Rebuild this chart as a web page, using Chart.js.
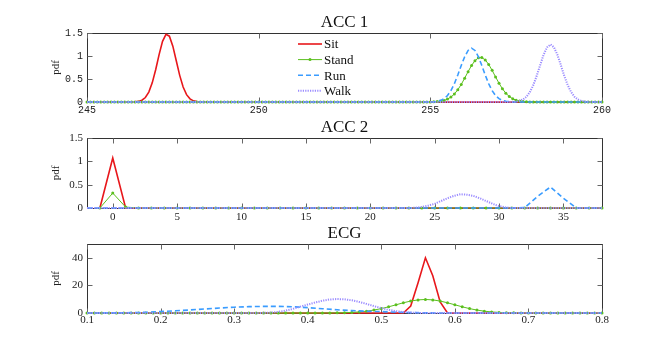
<!DOCTYPE html>
<html>
<head>
<meta charset="utf-8">
<script src="https://cdn.jsdelivr.net/npm/chart.js@4.4.0/dist/chart.umd.min.js"></script>
<style>
  body { margin: 0; background: #fff; width: 664px; height: 353px; position: relative; overflow: hidden; }
  .panel { position: absolute; left: 0; width: 664px; }
</style>
</head>
<body>
<div class="panel" style="top:0;height:120px"><canvas id="acc1"></canvas></div>
<div class="panel" style="top:110px;height:120px"><canvas id="acc2"></canvas></div>
<div class="panel" style="top:215px;height:138px"><canvas id="ecg"></canvas></div>
<script>
// ---- ACC 1 ----
const acc1XTicks = [245, 250, 255, 260];
const acc1YTicks = [0, 0.5, 1, 1.5];
const acc1Grid = [
  245, 245.1, 245.2, 245.3, 245.4, 245.5, 245.6, 245.7, 245.8, 245.9,
  246, 246.1, 246.2, 246.3, 246.4, 246.5, 246.6, 246.7, 246.8, 246.9,
  247, 247.1, 247.2, 247.3, 247.4, 247.5, 247.6, 247.7, 247.8, 247.9,
  248, 248.1, 248.2, 248.3, 248.4, 248.5, 248.6, 248.7, 248.8, 248.9,
  249, 249.1, 249.2, 249.3, 249.4, 249.5, 249.6, 249.7, 249.8, 249.9,
  250, 250.1, 250.2, 250.3, 250.4, 250.5, 250.6, 250.7, 250.8, 250.9,
  251, 251.1, 251.2, 251.3, 251.4, 251.5, 251.6, 251.7, 251.8, 251.9,
  252, 252.1, 252.2, 252.3, 252.4, 252.5, 252.6, 252.7, 252.8, 252.9,
  253, 253.1, 253.2, 253.3, 253.4, 253.5, 253.6, 253.7, 253.8, 253.9,
  254, 254.1, 254.2, 254.3, 254.4, 254.5, 254.6, 254.7, 254.8, 254.9,
  255, 255.1, 255.2, 255.3, 255.4, 255.5, 255.6, 255.7, 255.8, 255.9,
  256, 256.1, 256.2, 256.3, 256.4, 256.5, 256.6, 256.7, 256.8, 256.9,
  257, 257.1, 257.2, 257.3, 257.4, 257.5, 257.6, 257.7, 257.8, 257.9,
  258, 258.1, 258.2, 258.3, 258.4, 258.5, 258.6, 258.7, 258.8, 258.9,
  259, 259.1, 259.2, 259.3, 259.4, 259.5, 259.6, 259.7, 259.8, 259.9,
  260
];
const acc1StandY = [
  0, 0, 0, 0, 0, 0, 0, 0, 0, 0,
  0, 0, 0, 0, 0, 0, 0, 0, 0, 0,
  0, 0, 0, 0, 0, 0, 0, 0, 0, 0,
  0, 0, 0, 0, 0, 0, 0, 0, 0, 0,
  0, 0, 0, 0, 0, 0, 0, 0, 0, 0,
  0, 0, 0, 0, 0, 0, 0, 0, 0, 0,
  0, 0, 0, 0, 0, 0, 0, 0, 0, 0,
  0, 0, 0, 0, 0, 0, 0, 0, 0, 0,
  0, 0, 0, 0, 0, 0, 0, 0, 0, 0,
  0, 0, 0, 0, 0, 0, 0, 0, 0, 0,
  0, 0.004, 0.009, 0.018, 0.034, 0.063, 0.107, 0.174, 0.265, 0.382,
  0.517, 0.660, 0.793, 0.899, 0.960, 0.965, 0.915, 0.817, 0.688, 0.545,
  0.408, 0.287, 0.190, 0.119, 0.070, 0.039, 0.020, 0.010, 0.005, 0,
  0, 0, 0, 0, 0, 0, 0, 0, 0, 0,
  0, 0, 0, 0, 0, 0, 0, 0, 0, 0,
  0
];
const acc1SitX = [245, 246.3, 246.4, 246.5, 246.6, 246.7, 246.8, 246.9, 247, 247.1, 247.2, 247.3,
  247.4, 247.5, 247.6, 247.7, 247.8, 247.9, 248, 248.1, 248.2, 248.3, 248.4, 260];
const acc1SitY = [0, 0, 0.004, 0.013, 0.038, 0.097, 0.215, 0.416, 0.701, 1.029, 1.318, 1.471,
  1.431, 1.214, 0.898, 0.579, 0.325, 0.159, 0.068, 0.025, 0.008, 0.002, 0, 0];
const acc1RunX = [245, 255.1, 255.2, 255.3, 255.4, 255.5, 255.6, 255.7, 255.8, 255.9, 256, 256.1, 256.2,
  256.3, 256.4, 256.5, 256.6, 256.7, 256.8, 256.9, 257, 257.1, 257.2, 257.3, 257.4, 260];
const acc1RunY = [0, 0, 0.015, 0.035, 0.073, 0.141, 0.247, 0.397, 0.586, 0.793, 0.984, 1.121, 1.17,
  1.121, 0.984, 0.793, 0.586, 0.397, 0.247, 0.141, 0.073, 0.035, 0.015, 0.006, 0, 0];
const acc1WalkX = [245, 257.3, 257.4, 257.5, 257.6, 257.7, 257.8, 257.9, 258, 258.1, 258.2, 258.3, 258.4,
  258.5, 258.6, 258.7, 258.8, 258.9, 259, 259.1, 259.2, 259.3, 259.4, 259.5, 259.6, 259.7, 260];
const acc1WalkY = [0, 0, 0.003, 0.009, 0.024, 0.055, 0.114, 0.216, 0.369, 0.572, 0.805, 1.029, 1.19,
  1.25, 1.19, 1.029, 0.805, 0.572, 0.369, 0.216, 0.114, 0.055, 0.024, 0.009, 0.003, 0, 0];

// ---- ACC 2 ----
const acc2XTicks = [0, 5, 10, 15, 20, 25, 30, 35];
const acc2YTicks = [0, 0.5, 1, 1.5];
const acc2Grid = [-1, 0, 1, 2, 3, 4, 5, 6, 7, 8, 9, 10, 11, 12, 13, 14, 15, 16, 17, 18, 19,
  20, 21, 22, 23, 24, 25, 26, 27, 28, 29, 30, 31, 32, 33, 34, 35, 36, 37, 38];
const acc2StandY = [0, 0.32, 0.02, 0, 0, 0, 0, 0, 0, 0, 0, 0, 0, 0, 0, 0, 0, 0, 0, 0, 0,
  0, 0, 0, 0, 0, 0, 0, 0, 0, 0, 0, 0, 0, 0, 0, 0, 0, 0, 0];
const acc2SitX = [-1, 0, 1, 38];
const acc2SitY = [0, 1.07, 0, 0];
const acc2RunX = [-2, 31, 32, 33, 34, 35, 36, 38];
const acc2RunY = [0, 0, 0.01, 0.25, 0.45, 0.21, 0, 0];
const acc2WalkX = [-2, 23, 23.5, 24, 24.5, 25, 25.5, 26, 26.5, 27, 27.5, 28, 28.5, 29, 29.5, 30, 30.5, 31, 38];
const acc2WalkY = [0, 0, 0.005, 0.02, 0.05, 0.09, 0.15, 0.21, 0.26, 0.295, 0.285, 0.26, 0.21, 0.15, 0.09, 0.04, 0.015, 0, 0];

// ---- ECG ----
const ecgXTicks = [0.1, 0.2, 0.3, 0.4, 0.5, 0.6, 0.7, 0.8];
const ecgYTicks = [0, 20, 40];
const ecgGrid = [
  0.1, 0.11, 0.12, 0.13, 0.14, 0.15, 0.16, 0.17, 0.18, 0.19,
  0.2, 0.21, 0.22, 0.23, 0.24, 0.25, 0.26, 0.27, 0.28, 0.29,
  0.3, 0.31, 0.32, 0.33, 0.34, 0.35, 0.36, 0.37, 0.38, 0.39,
  0.4, 0.41, 0.42, 0.43, 0.44, 0.45, 0.46, 0.47, 0.48, 0.49,
  0.5, 0.51, 0.52, 0.53, 0.54, 0.55, 0.56, 0.57, 0.58, 0.59,
  0.6, 0.61, 0.62, 0.63, 0.64, 0.65, 0.66, 0.67, 0.68, 0.69,
  0.7, 0.71, 0.72, 0.73, 0.74, 0.75, 0.76, 0.77, 0.78, 0.79,
  0.8
];
const ecgStandY = [
  0, 0, 0, 0, 0, 0, 0, 0, 0, 0,
  0, 0, 0, 0, 0, 0, 0, 0, 0, 0,
  0, 0, 0, 0, 0, 0, 0, 0, 0, 0,
  0, 0, 0.02, 0.05, 0.11, 0.22, 0.43, 0.78, 1.33, 2.12,
  3.18, 4.49, 5.94, 7.40, 8.65, 9.50, 9.80, 9.50, 8.65, 7.40,
  5.94, 4.49, 3.18, 2.12, 1.33, 0.78, 0.43, 0.22, 0.11, 0.05,
  0.02, 0, 0, 0, 0, 0, 0, 0, 0, 0,
  0
];
const ecgSitX = [0.1, 0.53, 0.54, 0.55, 0.56, 0.57, 0.58, 0.59, 0.8];
const ecgSitY = [0, 0, 5, 22, 40, 27, 8, 0, 0];
const ecgRunX = [0.1, 0.12, 0.14, 0.16, 0.18, 0.2, 0.22, 0.24, 0.26, 0.28, 0.3, 0.32, 0.34, 0.36,
  0.38, 0.4, 0.42, 0.44, 0.46, 0.48, 0.5, 0.52, 0.54, 0.56, 0.58, 0.6, 0.8];
const ecgRunY = [0, 0.05, 0.1, 0.25, 0.5, 1.1, 1.6, 2.2, 2.9, 3.6, 4.2, 4.6, 4.8, 4.8,
  4.5, 3.9, 3.1, 2.3, 1.7, 1.3, 1.0, 0.6, 0.3, 0.1, 0.03, 0, 0];
const ecgWalkX = [0.1, 0.33, 0.34, 0.35, 0.36, 0.37, 0.38, 0.39, 0.4, 0.41, 0.42, 0.43, 0.44,
  0.45, 0.46, 0.47, 0.48, 0.49, 0.5, 0.51, 0.52, 0.53, 0.54, 0.55, 0.56, 0.8];
const ecgWalkY = [0, 0, 0.1, 0.3, 0.8, 1.7, 3.0, 4.6, 6.1, 7.6, 8.9, 9.8, 10.1,
  9.9, 9.2, 8.0, 6.6, 5.0, 3.5, 2.3, 1.3, 0.7, 0.3, 0.1, 0, 0];

// line styles (order: higher value drawn first, so Walk ends up on top like MATLAB)
const STYLE = {
  Sit:   { borderColor: '#e8171b', borderWidth: 1.6, pointRadius: 0, order: 4 },
  Stand: { borderColor: '#5bbf1e', borderWidth: 1, pointRadius: 1.5, pointBackgroundColor: '#5bbf1e',
           pointBorderWidth: 0, order: 3 },
  Run:   { borderColor: '#3a9cff', borderWidth: 1.6, borderDash: [5, 3], pointRadius: 0, order: 2 },
  Walk:  { borderColor: '#9b8cff', borderWidth: 2, borderDash: [1.2, 1.2], pointRadius: 0, order: 1 }
};
const LEGEND_NAMES = ['Sit', 'Stand', 'Run', 'Walk'];

function pts(xs, ys) {
  return xs.map((x, i) => ({ x: x, y: ys[i] }));
}

// box, inward ticks, panel title and (optionally) the legend
const framePlugin = {
  id: 'frame',
  beforeDatasetsDraw(chart, args, opts) {
    const { ctx, chartArea: a, scales } = chart;
    const L = Math.round(a.left) + 0.5, R = Math.round(a.right) + 0.5;
    const T = Math.round(a.top) + 0.5, B = Math.round(a.bottom) + 0.5;
    ctx.save();
    ctx.lineWidth = 1;
    ctx.strokeStyle = '#333';
    ctx.strokeRect(L, T, R - L, B - T);
    ctx.strokeStyle = '#666';
    ctx.beginPath();
    scales.x.ticks.forEach(t => {
      const px = Math.round(scales.x.getPixelForValue(t.value)) + 0.5;
      ctx.moveTo(px, B); ctx.lineTo(px, B - 5);
      ctx.moveTo(px, T); ctx.lineTo(px, T + 5);
    });
    scales.y.ticks.forEach(t => {
      const py = Math.round(scales.y.getPixelForValue(t.value)) + 0.5;
      ctx.moveTo(L, py); ctx.lineTo(L + 5, py);
      ctx.moveTo(R, py); ctx.lineTo(R - 5, py);
    });
    ctx.stroke();
    ctx.fillStyle = '#111';
    ctx.font = '17px "Liberation Serif"';
    ctx.textAlign = 'center';
    ctx.textBaseline = 'alphabetic';
    ctx.fillText(opts.title, (a.left + a.right) / 2, a.top - 6);
    ctx.restore();
  },
  afterDatasetsDraw(chart, args, opts) {
    if (!opts.legend) return;
    const ctx = chart.ctx;
    ctx.save();
    ctx.font = '13px "Liberation Serif"';
    ctx.textBaseline = 'middle';
    ctx.textAlign = 'left';
    LEGEND_NAMES.forEach((name, i) => {
      const s = STYLE[name];
      const y = 44 + i * 15.6;
      ctx.strokeStyle = s.borderColor;
      ctx.lineWidth = s.borderWidth;
      ctx.setLineDash(s.borderDash || []);
      ctx.beginPath();
      ctx.moveTo(298, y); ctx.lineTo(322, y);
      ctx.stroke();
      ctx.setLineDash([]);
      if (s.pointRadius) {
        ctx.fillStyle = s.borderColor;
        ctx.beginPath();
        ctx.arc(310, y, s.pointRadius, 0, Math.PI * 2);
        ctx.fill();
      }
      ctx.fillStyle = '#111';
      ctx.fillText(name, 324, y + 1);
    });
    ctx.restore();
  }
};

function makeChart(id, p) {
  const datasets = [
    { label: 'Sit', data: pts(p.sitX, p.sitY), ...STYLE.Sit },
    { label: 'Stand', data: pts(p.standX, p.standY), ...STYLE.Stand },
    { label: 'Run', data: pts(p.runX, p.runY), ...STYLE.Run },
    { label: 'Walk', data: pts(p.walkX, p.walkY), ...STYLE.Walk }
  ];
  datasets.forEach(d => { d.fill = false; d.tension = 0; d.clip = false; });

  new Chart(document.getElementById(id), {
    type: 'line',
    data: { datasets: datasets },
    options: {
      responsive: true,
      maintainAspectRatio: false,
      animation: false,
      events: [],
      layout: { padding: { top: p.top, right: 62, left: 0, bottom: 0 } },
      plugins: {
        legend: { display: false },
        tooltip: { enabled: false },
        frame: { title: p.title, legend: p.legend }
      },
      scales: {
        x: {
          type: 'linear', min: p.xMin, max: p.xMax,
          afterBuildTicks: s => { s.ticks = p.xTicks.map(v => ({ value: v })); },
          afterFit: s => { s.height = p.xAxisH; },
          grid: { display: false, drawTicks: false },
          border: { display: false },
          ticks: { font: p.tickFont, color: '#222', padding: p.xPad, maxRotation: 0, autoSkip: false,
                   callback: v => String(v) }
        },
        y: {
          type: 'linear', min: 0, max: p.yMax,
          afterBuildTicks: s => { s.ticks = p.yTicks.map(v => ({ value: v })); },
          afterFit: s => { s.width = 87; },
          grid: { display: false, drawTicks: false },
          border: { display: false },
          ticks: { font: p.tickFont, color: '#222', padding: 4, callback: v => String(v) },
          title: { display: true, text: 'pdf', color: '#222',
                   font: { family: 'Liberation Serif', size: 11 }, padding: { top: 50, bottom: 0 } }
        }
      }
    },
    plugins: [framePlugin]
  });
}

const monoFont = { family: 'Liberation Mono', size: 10 };
const serifFont = { family: 'Liberation Serif', size: 11 };

makeChart('acc1', {
  title: 'ACC 1', legend: true, top: 33, xAxisH: 18, xPad: 2, tickFont: monoFont,
  xMin: 245, xMax: 260, yMax: 1.5, xTicks: acc1XTicks, yTicks: acc1YTicks,
  sitX: acc1SitX, sitY: acc1SitY, standX: acc1Grid, standY: acc1StandY,
  runX: acc1RunX, runY: acc1RunY, walkX: acc1WalkX, walkY: acc1WalkY
});
makeChart('acc2', {
  title: 'ACC 2', legend: false, top: 28, xAxisH: 22, xPad: 3, tickFont: serifFont,
  xMin: -2, xMax: 38, yMax: 1.5, xTicks: acc2XTicks, yTicks: acc2YTicks,
  sitX: acc2SitX, sitY: acc2SitY, standX: acc2Grid, standY: acc2StandY,
  runX: acc2RunX, runY: acc2RunY, walkX: acc2WalkX, walkY: acc2WalkY
});
makeChart('ecg', {
  title: 'ECG', legend: false, top: 29, xAxisH: 40, xPad: 1, tickFont: serifFont,
  xMin: 0.1, xMax: 0.8, yMax: 50, xTicks: ecgXTicks, yTicks: ecgYTicks,
  sitX: ecgSitX, sitY: ecgSitY, standX: ecgGrid, standY: ecgStandY,
  runX: ecgRunX, runY: ecgRunY, walkX: ecgWalkX, walkY: ecgWalkY
});
</script>
</body>
</html>
